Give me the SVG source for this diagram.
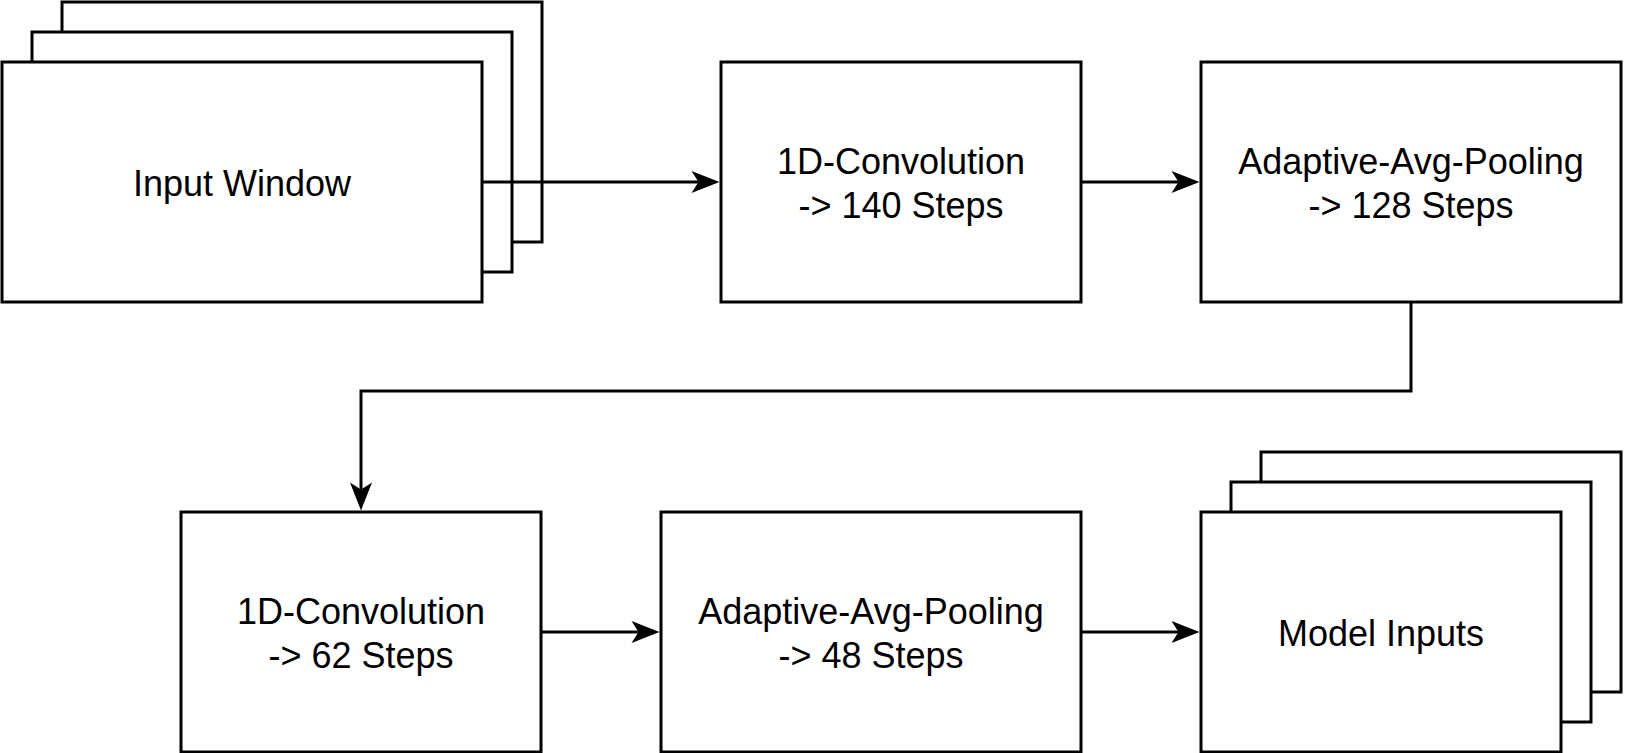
<svg xmlns="http://www.w3.org/2000/svg" width="1626" height="753" viewBox="0 0 1626 753">
  <style>
    .box { fill: #ffffff; stroke: #000000; stroke-width: 3; }
    .edge { fill: none; stroke: #000000; stroke-width: 3; }
    .lbl { font-family: "Liberation Sans", Arial, sans-serif; font-size: 36px; fill: #000000; text-anchor: middle; }
  </style>
  <defs>
    <marker id="arrow" viewBox="0 0 30 26" refX="9" refY="13" markerWidth="30" markerHeight="26" markerUnits="userSpaceOnUse" orient="auto">
      <path d="M2,2 L30,13 L2,24 L9,13 Z" fill="#000000"/>
    </marker>
  </defs>
  <rect width="1626" height="753" fill="#ffffff"/>

  <g id="input-window">
    <rect class="box" x="62" y="2" width="480" height="240"/>
    <rect class="box" x="32" y="32" width="480" height="240"/>
    <rect class="box" x="2" y="62" width="480" height="240"/>
    <text class="lbl" x="242" y="195.5">Input Window</text>
  </g>

  <g id="conv1">
    <rect class="box" x="721" y="62" width="360" height="240"/>
    <text class="lbl" x="901" y="173.5">1D-Convolution</text>
    <text class="lbl" x="901" y="218">-&gt; 140 Steps</text>
  </g>

  <g id="pool1">
    <rect class="box" x="1201" y="62" width="420" height="240"/>
    <text class="lbl" x="1411" y="173.5">Adaptive-Avg-Pooling</text>
    <text class="lbl" x="1411" y="218">-&gt; 128 Steps</text>
  </g>

  <g id="conv2">
    <rect class="box" x="181" y="512" width="360" height="240"/>
    <text class="lbl" x="361" y="623.5">1D-Convolution</text>
    <text class="lbl" x="361" y="668">-&gt; 62 Steps</text>
  </g>

  <g id="pool2">
    <rect class="box" x="661" y="512" width="420" height="240"/>
    <text class="lbl" x="871" y="623.5">Adaptive-Avg-Pooling</text>
    <text class="lbl" x="871" y="668">-&gt; 48 Steps</text>
  </g>

  <g id="model-inputs">
    <rect class="box" x="1261" y="452" width="360" height="240"/>
    <rect class="box" x="1231" y="482" width="360" height="240"/>
    <rect class="box" x="1201" y="512" width="360" height="240"/>
    <text class="lbl" x="1381" y="645.5">Model Inputs</text>
  </g>

  <g id="connectors">
    <path class="edge" d="M482,182 L698.5,182" marker-end="url(#arrow)"/>
    <path class="edge" d="M1081,182 L1178.5,182" marker-end="url(#arrow)"/>
    <path class="edge" d="M1411,302 L1411,391 L361,391 L361,489.5" marker-end="url(#arrow)"/>
    <path class="edge" d="M541,632 L638.5,632" marker-end="url(#arrow)"/>
    <path class="edge" d="M1081,632 L1178.5,632" marker-end="url(#arrow)"/>
  </g>
</svg>
